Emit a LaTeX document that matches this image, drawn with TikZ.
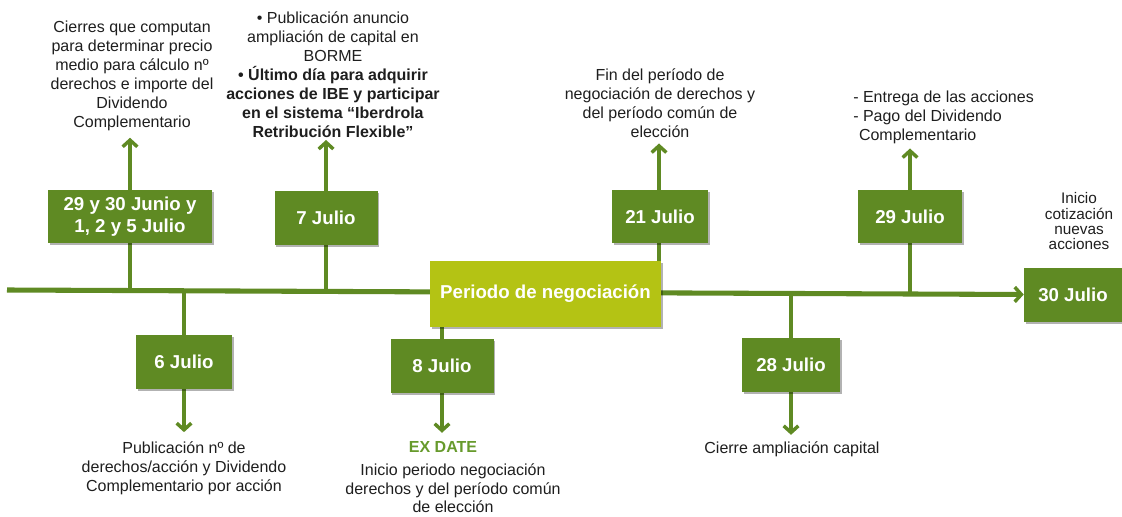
\documentclass[tikz,border=0pt]{standalone}
\usepackage{fontspec}
\setmainfont{Liberation Sans}
\usetikzlibrary{arrows.meta,shadows,backgrounds}
\definecolor{dgreen}{HTML}{5F8A23}
\definecolor{lgreen}{HTML}{B4C314}
\definecolor{exgreen}{HTML}{679A2C}
\definecolor{txt}{HTML}{1E1E1E}
\begin{document}
\begin{tikzpicture}[x=0.75pt,y=-0.75pt,
  datebox/.style={fill=dgreen, text=white, font=\bfseries\fontsize{14}{16.5}\selectfont,
    align=center, minimum height=40.5pt, inner sep=0pt,
    drop shadow={opacity=0.3, fill=black, shadow xshift=1.2pt, shadow yshift=-1.5pt}},
  pbox/.style={fill=lgreen, text=white, font=\bfseries\fontsize{14}{16.5}\selectfont,
    minimum width=173.25pt, minimum height=49.5pt, inner sep=0pt,
    drop shadow={opacity=0.3, fill=black, shadow xshift=1.2pt, shadow yshift=-1.5pt}},
  lbl/.style={text=txt, font=\fontsize{12}{14.25}\selectfont, align=center, inner sep=0pt},
  conn/.style={draw=dgreen, line width=3.6pt},
  arr/.style={conn, -{Straight Barb[length=5pt,width=11pt,line width=2.6pt]}},
  tline/.style={draw=dgreen, line width=3.8pt, -{Straight Barb[length=5pt,width=11pt,line width=2.6pt]}}
]
\useasboundingbox (0,0) rectangle (1122,517);

% date boxes
\node[datebox, minimum width=123pt, minimum height=39.75pt] (A) at (130,216.5) {29 y 30 Junio y\\1, 2 y 5 Julio};
\node[datebox, minimum width=77.25pt] (B) at (326,218) {7 Julio};
\node[pbox] (P) at (545.5,294) {Periodo de negociación};
\node[datebox, minimum width=72pt, minimum height=39.75pt] (C) at (660,216.5) {21 Julio};
\node[datebox, minimum width=78pt, minimum height=39.75pt] (D) at (910,216.5) {29 Julio};
\node[datebox, minimum width=73.5pt] (E) at (1073,294.5) {30 Julio};
\node[datebox, minimum width=72pt] (F) at (184,362) {6 Julio};
\node[datebox, minimum width=77.25pt] (G) at (442,366) {8 Julio};
\node[datebox, minimum width=73.5pt] (H) at (791,365) {28 Julio};

% labels above
\node[lbl, anchor=south] (TA) at (132,131.5) {Cierres que computan\\para determinar precio\\medio para cálculo nº\\derechos e importe del\\Dividendo\\Complementario};
\node[lbl, anchor=south] (TB) at (333,138) {• Publicación anuncio\\ampliación de capital en\\BORME\\\textbf{• Último día para adquirir}\\\textbf{acciones de IBE y participar}\\\textbf{en el sistema “Iberdrola}\\\textbf{Retribución Flexible”}};
\node[lbl, anchor=south] (TC) at (660,137.5) {Fin del período de\\negociación de derechos y\\del período común de\\elección};
\node[lbl, anchor=south west, align=left] (TD) at (853,144.5) {- Entrega de las acciones\\- Pago del Dividendo\\\hspace*{4.3pt}Complementario};
\node[lbl, anchor=south, font=\fontsize{11.5}{11.4}\selectfont] (TE) at (1079,250) {Inicio\\cotización\\nuevas\\acciones};

% labels below
\node[lbl, anchor=north] (TF) at (184,441.5) {Publicación nº de\\derechos/acción y Dividendo\\Complementario por acción};
\node[lbl, anchor=north, text=exgreen, font=\bfseries\fontsize{12}{14.25}\selectfont] (TGx) at (443,441.7) {EX DATE};
\node[lbl, anchor=north, font=\fontsize{12}{14}\selectfont] (TG) at (453,463.5) {Inicio periodo negociación\\derechos y del período común\\de elección};
\node[lbl, anchor=north] (TH) at (792,441.5) {Cierre ampliación capital};

% timeline coordinates
\coordinate (t0) at (7,290);
\coordinate (tA) at (130,290.5);
\coordinate (tB) at (326,291.3);
\coordinate (tC) at (659,292.6);
\coordinate (tD) at (910,293.6);
\coordinate (tF) at (184,290.7);
\coordinate (tH) at (791,293.1);

\begin{scope}[on background layer]
  \draw[tline] (t0) -- (E.west);
  \draw[conn] (tA) -- (A.south);
  \draw[conn] (tB) -- (B.south);
  \draw[conn] (tC) -- (C.south -| tC);
  \draw[conn] (tD) -- (D.south);
  \draw[conn] (tF) -- (F.north);
  \draw[conn] (tH) -- (H.north);
  \draw[conn] (G.north |- P.south) -- (G.north);
  % arrows to labels
  \draw[arr, shorten >=4.7pt] (A.north) -- (A.north |- TA.south);
  \draw[arr, shorten >=1.5pt] (B.north) -- (B.north |- TB.south);
  \draw[arr, shorten >=4.5pt] (C.north -| tC) -- (tC |- TC.south);
  \draw[arr, shorten >=3pt] (D.north) -- (D.north |- TD.south);
  \draw[arr, shorten >=7pt] (F.south) -- (F.south |- TF.north);
  \draw[arr, shorten >=6.7pt] (G.south) -- (G.south |- TGx.north);
  \draw[arr, shorten >=5pt] (H.south) -- (H.south |- TH.north);
\end{scope}
\end{tikzpicture}
\end{document}
